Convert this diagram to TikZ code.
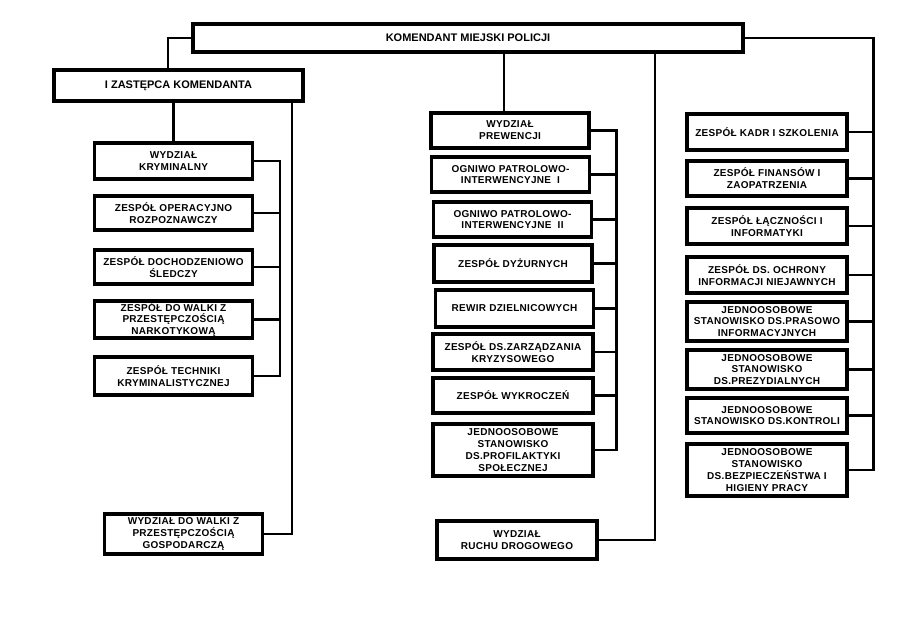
\documentclass[tikz,border=0pt]{standalone}
\usepackage{fontspec}
\newfontfamily\orgfont[LetterSpace=3]{Liberation Sans}
\newfontfamily\headfont{Liberation Sans}
\usepackage{tikz}
\usetikzlibrary{positioning,calc}

\begin{document}
\begin{tikzpicture}[
    x=1pt, y=-1pt,
    unit/.style={draw, line width=3.1pt, align=center, inner sep=0pt,
        minimum width=158pt, font=\orgfont\bfseries\fontsize{10}{11.8}\selectfont},
    head/.style={unit, font=\headfont\bfseries\fontsize{11}{13}\selectfont},
    link/.style={line width=2.7pt, line join=miter}
]
\useasboundingbox (0,0) rectangle (900,636);

% Top level
\node[head, minimum width=550pt, minimum height=28pt] (kmp) at (468,38) {KOMENDANT MIEJSKI POLICJI};
\node[head, minimum width=249pt, minimum height=31pt] (zast) at (178.5,85.5) {I ZASTĘPCA KOMENDANTA};

% Left column
\node[unit, minimum height=36pt] (wk)  at (173.5,161)   {WYDZIAŁ\\KRYMINALNY};
\node[unit, minimum height=34pt] (zor) at (173.5,213)   {ZESPÓŁ OPERACYJNO\\ROZPOZNAWCZY};
\node[unit, minimum height=34pt] (zds) at (173.5,267)   {ZESPÓŁ DOCHODZENIOWO\\ŚLEDCZY};
\node[unit, minimum height=37pt] (zwn) at (173.5,319.5) {ZESPÓŁ DO WALKI Z\\PRZESTĘPCZOŚCIĄ\\NARKOTYKOWĄ};
\node[unit, minimum height=38pt] (ztk) at (173.5,376)   {ZESPÓŁ TECHNIKI\\KRYMINALISTYCZNEJ};
\node[unit, minimum height=40pt] (wpg) at (183.5,534)   {WYDZIAŁ DO WALKI Z\\PRZESTĘPCZOŚCIĄ\\GOSPODARCZĄ};

% Middle column
\node[unit, minimum height=35pt] (wp)  at (510,130.5)   {WYDZIAŁ\\PREWENCJI};
\node[unit, minimum height=35pt] (og1) at (510.5,174.5) {OGNIWO PATROLOWO-\\INTERWENCYJNE~~I};
\node[unit, minimum height=35pt] (og2) at (512.5,219.5) {OGNIWO PATROLOWO-\\INTERWENCYJNE~~II};
\node[unit, minimum height=37pt] (zd)  at (513,263.5)   {ZESPÓŁ DYŻURNYCH};
\node[unit, minimum height=37pt] (rd)  at (514.5,308.5) {REWIR DZIELNICOWYCH};
\node[unit, minimum width=160pt, minimum height=36pt] (zzk) at (513,352) {ZESPÓŁ DS.ZARZĄDZANIA\\KRYZYSOWEGO};
\node[unit, minimum width=160pt, minimum height=35pt] (zw)  at (513,395.5) {ZESPÓŁ WYKROCZEŃ};
\node[unit, minimum width=160pt, minimum height=52pt] (jpf) at (513,450) {JEDNOOSOBOWE\\STANOWISKO\\DS.PROFILAKTYKI\\SPOŁECZNEJ};
\node[unit, minimum width=160pt, minimum height=38pt] (wrd) at (517,540) {WYDZIAŁ\\RUCHU DROGOWEGO};

% Right column
\node[unit, minimum width=160pt, minimum height=36pt] (zks) at (767,132)   {ZESPÓŁ KADR I SZKOLENIA};
\node[unit, minimum width=160pt, minimum height=35pt] (zfz) at (767,178.5) {ZESPÓŁ FINANSÓW I\\ZAOPATRZENIA};
\node[unit, minimum width=160pt, minimum height=36pt] (zli) at (767,226)   {ZESPÓŁ ŁĄCZNOŚCI I\\INFORMATYKI};
\node[unit, minimum width=160pt, minimum height=36pt] (zon) at (767,275)   {ZESPÓŁ DS. OCHRONY\\INFORMACJI NIEJAWNYCH};
\node[unit, minimum width=160pt, minimum height=39pt] (jpi) at (767,321.5) {JEDNOOSOBOWE\\STANOWISKO DS.PRASOWO\\INFORMACYJNYCH};
\node[unit, minimum width=160pt, minimum height=39pt] (jpr) at (767,369.5) {JEDNOOSOBOWE\\STANOWISKO\\DS.PREZYDIALNYCH};
\node[unit, minimum width=160pt, minimum height=35pt] (jko) at (767,415.5) {JEDNOOSOBOWE\\STANOWISKO DS.KONTROLI};
\node[unit, minimum width=160pt, minimum height=52pt] (jbh) at (767,470)   {JEDNOOSOBOWE\\STANOWISKO\\DS.BEZPIECZEŃSTWA I\\HIGIENY PRACY};

% Links from the top
\draw[link] (kmp.west) -| ([xshift=-10.5pt]zast.north);
\draw[link] ([xshift=-6pt]wp.north |- kmp.south) -- ([xshift=-6pt]wp.north);
\draw[link] (wrd.east) -| ([xshift=187pt]kmp.south);
\draw[link] (kmp.east) -| ([xshift=25pt]jbh.east) -- (jbh.east);
\foreach \n in {zks,zfz,zli,zon,jpi,jpr,jko}
    \draw[link] (\n.east) -- ++(25,0);

% Links of the deputy
\draw[link] (zast.south -| wk.north) -- (wk.north);
\draw[link] (wpg.east) -| ([xshift=113.5pt]zast.south);
\draw[link] (wk.east) -| ([xshift=26pt]ztk.east) -- (ztk.east);
\foreach \n in {zor,zds,zwn}
    \draw[link] (\n.east) -- ++(26,0);

% Prevention branch
\draw[link] (wp.east) -| ([xshift=22pt]jpf.east) -- (jpf.east);
\foreach \n in {og1,og2,zd,rd,zzk,zw}
    \draw[link] (\n.east) -- ([xshift=22pt]jpf.east |- \n.east);

\end{tikzpicture}
\end{document}
